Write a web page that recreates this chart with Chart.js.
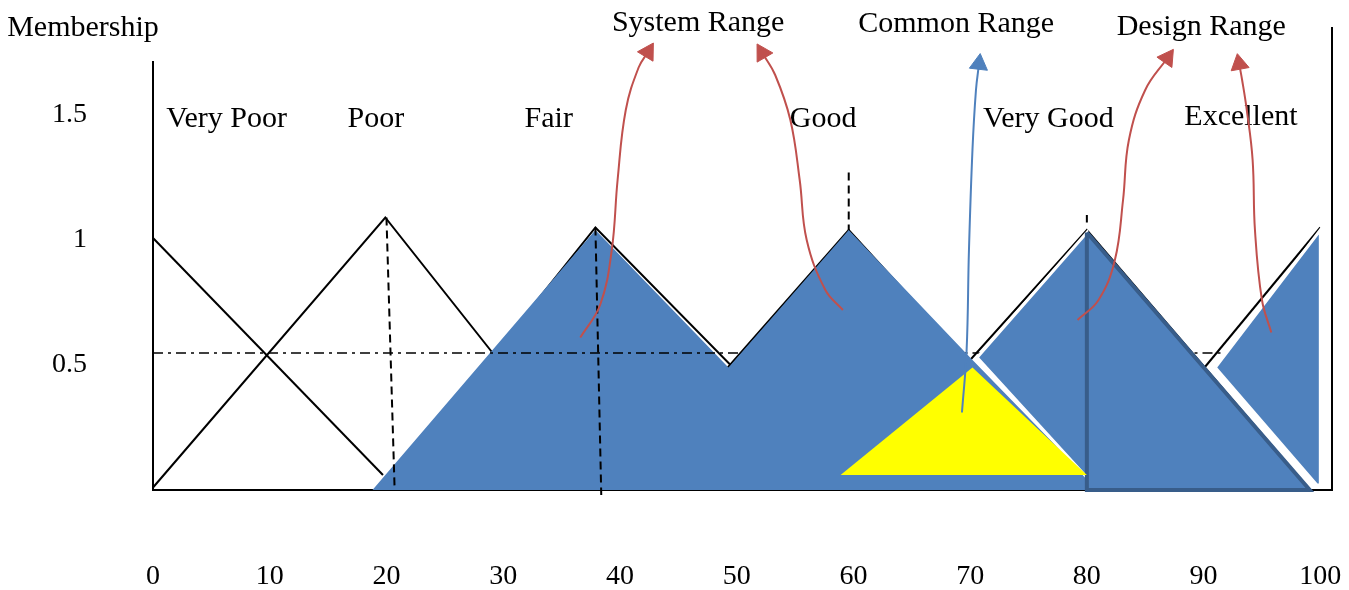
<!DOCTYPE html>
<html lang="en">
<head>
<meta charset="UTF-8">
<title>Membership functions</title>
<script src="https://cdn.jsdelivr.net/npm/chart.js"></script>
<style>
  html, body { margin: 0; padding: 0; background: #fff; }
  #wrap { width: 1349px; height: 590px; }
</style>
</head>
<body>
<div id="wrap"><canvas id="chart"></canvas></div>
<script>
// axis ticks
const xTicks = [0, 10, 20, 30, 40, 50, 60, 70, 80, 90, 100];
const yTicks = [0.5, 1, 1.5];

// category labels (name, x, membership height of the label)
const categoryNames = ['Very Poor', 'Poor', 'Fair', 'Good', 'Very Good', 'Excellent'];
const categoryX = [6.3, 19.1, 33.9, 57.4, 76.7, 93.2];
const categoryY = [1.482, 1.482, 1.482, 1.482, 1.482, 1.49];

// range labels at the top
const rangeNames = ['System Range', 'Common Range', 'Design Range'];
const rangeX = [46.7, 68.8, 89.8];
const rangeY = [1.868, 1.864, 1.852];

// triangular membership functions (outlines)
const veryPoor = [[0, 1.008], [19.7, 0.06]];
const poor = [[0, 0.01], [19.9, 1.09], [38.4, 0]];
const fair = [[19.9, 0], [37.9, 1.05], [60, 0]];
const good = [[40, 0], [59.6, 1.04], [80, 0]];
const veryGood = [[60, 0], [80, 1.04], [99.1, 0]];
const excellent = [[81.4, 0], [100, 1.05]];

// shaded areas
const fairGoodArea = [[18.8, 0], [37.9, 1.04], [49.3, 0.49], [59.6, 1.04], [70, 0.53], [80, 0.05], [80, 0], [18.8, 0]];
const veryGoodLeftArea = [[70.6, 0.53], [80, 1.03], [80, 0.05], [70.6, 0.53]];
const veryGoodRightArea = [[80, 1.03], [80, 0], [99.1, 0], [80, 1.03]];
const excellentArea = [[91, 0.49], [100, 1.04], [100, 0.02], [99.7, 0.02], [91, 0.49]];
const commonArea = [[58.9, 0.06], [70.2, 0.49], [80, 0.06], [58.9, 0.06]];

// guide lines
const halfLineFront = [[0, 0.548], [50.5, 0.548]];
const halfLineBack = [[50.5, 0.548], [92, 0.548]];
const guide20 = [[20, 1.09], [20.7, 0]];
const guide40 = [[37.9, 1.05], [38.4, -0.02]];
const guide60 = [[59.6, 1.27], [59.6, 1.04]];
const guide80 = [[80, 1.1], [80, 1.07]];
const rightFrame = [[101, 0], [101, 1.852]];

// annotation arrows
const systemArrowLeft = [[36.6, 0.61], [38.3, 0.74], [39.3, 0.96], [39.8, 1.24], [40.5, 1.52], [41.6, 1.69], [42.4, 1.752]];
const systemArrowRight = [[59.1, 0.72], [57.6, 0.80], [56.0, 1.00], [55.4, 1.24], [54.6, 1.48], [53.3, 1.66], [52.2, 1.748]];
const commonArrow = [[69.3, 0.31], [69.7, 0.56], [69.9, 0.96], [70.2, 1.36], [70.5, 1.6], [70.76, 1.704]];
const designArrowLeft = [[79.2, 0.68], [81.0, 0.76], [82.4, 0.92], [83.1, 1.16], [83.6, 1.40], [85.0, 1.60], [86.9, 1.728]];
const designArrowRight = [[95.8, 0.63], [95.0, 0.76], [94.4, 1.04], [94.2, 1.32], [93.7, 1.52], [93.3, 1.64], [93.05, 1.704]];

const FONT = '"Liberation Serif", "Times New Roman", serif';
const BLUE = '#4F81BD';
const RED = '#C0504D';

const pts = a => a.map(p => ({ x: p[0], y: p[1] }));

function lineSet(data, opts) {
    return Object.assign({
        data: pts(data), showLine: true, fill: false, pointRadius: 0,
        borderColor: '#000', borderWidth: 2, tension: 0, clip: false
    }, opts);
}

function areaSet(data, color, border, width, order) {
    return lineSet(data, {
        fill: 'shape', backgroundColor: color, borderColor: border,
        borderWidth: width, borderJoinStyle: 'miter', order: order
    });
}

// rotate the arrow head along the last segment of the curve
function tipAngle(c) {
    const d = c.dataset.data, n = d.length;
    if (c.dataIndex !== n - 1) return 0;
    const sx = c.chart.scales.x, sy = c.chart.scales.y;
    const dx = sx.getPixelForValue(d[n - 1].x) - sx.getPixelForValue(d[n - 2].x);
    const dy = sy.getPixelForValue(d[n - 1].y) - sy.getPixelForValue(d[n - 2].y);
    return Math.atan2(dx, -dy) * 180 / Math.PI;
}

function arrowSet(data, color) {
    return lineSet(data, {
        borderColor: color, borderWidth: 2, tension: 0.4, order: 1,
        pointRadius: c => c.dataIndex === c.dataset.data.length - 1 ? 10.5 : 0,
        pointStyle: 'triangle', pointBackgroundColor: color, pointBorderColor: color,
        pointBorderWidth: 1, pointRotation: tipAngle
    });
}

// labels and the axis name
const textPlugin = {
    id: 'textLabels',
    beforeDatasetsDraw(chart) {
        const { ctx, scales: { x, y } } = chart;
        ctx.save();
        ctx.font = '30px ' + FONT;
        ctx.fillStyle = '#000';
        ctx.textAlign = 'center';
        ctx.textBaseline = 'middle';
        categoryNames.forEach((t, i) => ctx.fillText(t, x.getPixelForValue(categoryX[i]), y.getPixelForValue(categoryY[i])));
        rangeNames.forEach((t, i) => ctx.fillText(t, x.getPixelForValue(rangeX[i]), y.getPixelForValue(rangeY[i])));
        ctx.fillText('Membership', x.getPixelForValue(-6), y.getPixelForValue(1.848));
        ctx.restore();
    }
};

const datasets = [
    // outlines underneath
    lineSet(veryPoor, { order: 10 }),
    lineSet(poor, { order: 10 }),
    lineSet(fair, { order: 10 }),
    lineSet(good, { order: 10 }),
    lineSet(veryGood, { order: 10 }),
    lineSet(excellent, { order: 10 }),
    lineSet(halfLineBack, { order: 10, borderWidth: 1.5, borderDash: [10, 5, 3, 5] }),
    lineSet(rightFrame, { order: 10 }),
    // shaded areas
    areaSet(fairGoodArea, BLUE, BLUE, 0, 6),
    areaSet(veryGoodLeftArea, BLUE, '#ffffff', 3, 5.5),
    areaSet(veryGoodRightArea, BLUE, '#385D8A', 4, 5.3),
    areaSet(excellentArea, BLUE, '#ffffff', 3, 5.1),
    areaSet(commonArea, '#FFFF00', '#FFFF00', 0, 4),
    // guides on top
    lineSet(halfLineFront, { order: 3, borderWidth: 1.5, borderDash: [10, 5, 3, 5] }),
    lineSet(guide20, { order: 3, borderWidth: 2, borderDash: [8, 5] }),
    lineSet(guide40, { order: 3, borderWidth: 2, borderDash: [8, 5] }),
    lineSet(guide60, { order: 3, borderWidth: 2, borderDash: [8, 5] }),
    lineSet(guide80, { order: 3, borderWidth: 2 }),
    // arrows
    arrowSet(systemArrowLeft, RED),
    arrowSet(systemArrowRight, RED),
    arrowSet(commonArrow, BLUE),
    arrowSet(designArrowLeft, RED),
    arrowSet(designArrowRight, RED)
];

new Chart(document.getElementById('chart'), {
    type: 'scatter',
    data: { datasets: datasets },
    plugins: [textPlugin],
    options: {
        responsive: true,
        maintainAspectRatio: false,
        animation: false,
        layout: { padding: { top: 62, right: 17, bottom: 0, left: 0 } },
        elements: { line: { capBezierPoints: false } },
        plugins: { legend: { display: false }, tooltip: { enabled: false } },
        scales: {
            x: {
                type: 'linear', min: 0, max: 101,
                grid: { display: false },
                border: { display: true, color: '#000', width: 2 },
                afterBuildTicks: s => { s.ticks = xTicks.map(v => ({ value: v })); },
                afterFit: s => { s.height = 100; s.paddingLeft = 0; s.paddingRight = 0; },
                ticks: { padding: 62, color: '#000', font: { family: FONT, size: 28 }, maxRotation: 0, autoSkip: false }
            },
            y: {
                type: 'linear', min: 0, max: 1.712,
                grid: { display: false },
                border: { display: true, color: '#000', width: 2 },
                afterBuildTicks: s => { s.ticks = yTicks.map(v => ({ value: v })); },
                afterFit: s => { s.width = 153; s.paddingTop = 0; s.paddingBottom = 0; },
                ticks: { padding: 58, color: '#000', font: { family: FONT, size: 28 }, callback: v => String(v) }
            }
        }
    }
});
</script>
</body>
</html>
